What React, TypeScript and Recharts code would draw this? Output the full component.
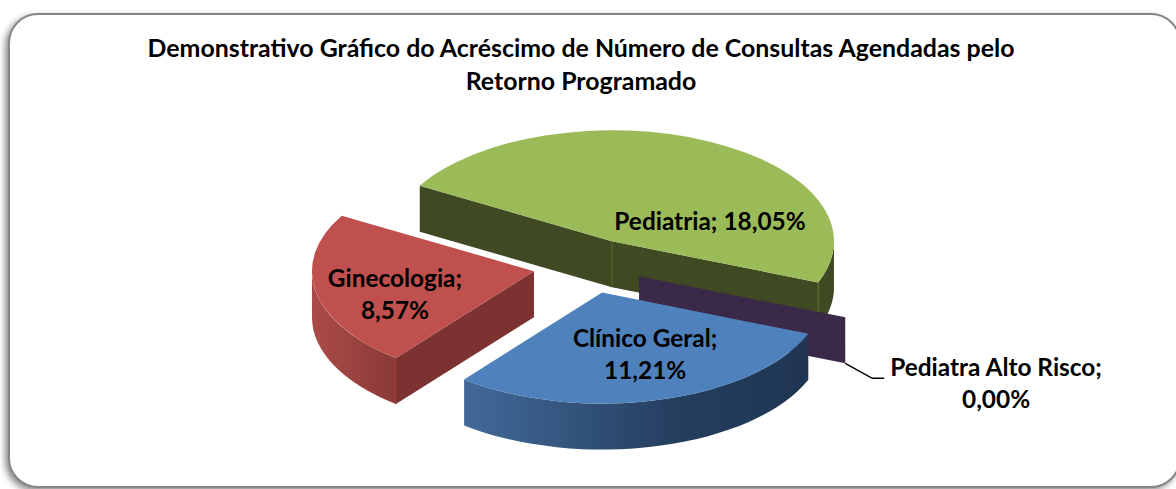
import { PieChart, Pie, Cell } from 'recharts';

const categories = ['Pediatria', 'Pediatra Alto Risco', 'Clínico Geral', 'Ginecologia'];
const percentages = [18.05, 0.0, 11.21, 8.57];
const titleLines = [
  'Demonstrativo Gráfico do Acréscimo de Número de Consultas Agendadas pelo',
  'Retorno Programado',
];

const topColors = ['#9BBB59', '#403152', '#4F81BD', '#C0504D'];
const rimFills = ['#3F4A22', '#3A2A47', 'url(#rimBlue)', 'url(#rimRed)'];
const wallColors = ['#3F4A22', '#3A2A47', '#1F3552', '#7C3230'];
const seamColors = ['#5B6B2E', '#3A2A47', '#1F3552', '#8A3A38'];

const TILT = 0.5;
const DEPTH = 46;
const EXPLODE = 55;
const FONT = 'Lato, "Open Sans", sans-serif';

const data = categories.map((name, i) => ({ name, value: percentages[i] }));

const rad = (a: number) => (a * Math.PI) / 180;

// slice center after pulling it out along its bisector, flattened like the top face
function sliceOrigin(cx: number, cy: number, start: number, end: number) {
  const mid = rad((start + end) / 2);
  return { x: cx + EXPLODE * Math.cos(mid), y: cy - EXPLODE * TILT * Math.sin(mid) };
}

function Slice3D(props: any) {
  const { cx, cy, outerRadius: r, startAngle: start, endAngle: end, index } = props;
  const o = sliceOrigin(cx, cy, start, end);
  const ry = r * TILT;
  const pt = (a: number, h = 0) => ({
    x: o.x + r * Math.cos(rad(a)),
    y: o.y - ry * Math.sin(rad(a)) + h,
  });
  const i = categories.indexOf(props.name);
  const idx = i >= 0 ? i : index;
  const arc = (a: number, b: number, h = 0) => {
    const p = pt(b, h);
    return `A${r} ${ry} 0 ${Math.abs(a - b) > 180 ? 1 : 0} 1 ${p.x} ${p.y}`;
  };
  const wall = (a: number) => {
    const p = pt(a);
    const q = pt(a, DEPTH);
    return `M${o.x} ${o.y}L${p.x} ${p.y}L${q.x} ${q.y}L${o.x} ${o.y + DEPTH}Z`;
  };
  const startP = pt(start);
  const endP = pt(end);
  const startVisible = Math.cos(rad(start)) < 0;
  const endVisible = Math.cos(rad(end)) > 0;
  // outer wall only shows on the lower half of the ellipse
  const hi = Math.min(start, 0);
  const lo = Math.max(end, -180);
  let rim = '';
  if (hi > lo) {
    const a = pt(hi);
    const b = pt(lo, DEPTH);
    rim = `M${a.x} ${a.y}${arc(hi, lo)}L${b.x} ${b.y}A${r} ${ry} 0 0 0 ${pt(hi, DEPTH).x} ${pt(hi, DEPTH).y}Z`;
  }
  const seam = (p: { x: number; y: number }) => (
    <line x1={p.x} y1={p.y} x2={p.x} y2={p.y + DEPTH} stroke={seamColors[idx]} strokeWidth={1} />
  );
  return (
    <g>
      {startVisible && <path d={wall(start)} fill={wallColors[idx]} />}
      {endVisible && <path d={wall(end)} fill={wallColors[idx]} />}
      {rim && <path d={rim} fill={rimFills[idx]} />}
      {startVisible && endVisible && seam(o)}
      {idx === 0 && seam(endP)}
      {idx === 3 && seam(startP)}
      {start !== end && (
        <path
          d={`M${o.x} ${o.y}L${startP.x} ${startP.y}${arc(start, end)}Z`}
          fill={topColors[idx]}
        />
      )}
    </g>
  );
}

const labelShift = [
  { dx: 98, dy: -11 },
  { dx: 151, dy: 100 },
  { dx: 43, dy: 70 },
  { dx: -139, dy: 32 },
];

function SliceLabel(props: any) {
  const { cx, cy, outerRadius: r, startAngle: start, endAngle: end, index, name, value } = props;
  const o = sliceOrigin(cx, cy, start, end);
  const text = `${value.toFixed(2).replace('.', ',')}%`;
  const shift = labelShift[index];
  const common = {
    textAnchor: 'middle' as const,
    fontFamily: FONT,
    fontWeight: 700,
    fontSize: 24.4,
    fill: '#000',
  };
  if (index === 0) {
    return (
      <text x={o.x + shift.dx} y={o.y + shift.dy} {...common}>
        {`${name}; ${text}`}
      </text>
    );
  }
  if (index === 1) {
    const ex = o.x + r * Math.cos(rad(end));
    const ey = o.y - r * TILT * Math.sin(rad(end)) + DEPTH;
    const tx = o.x + 206 + shift.dx;
    return (
      <g>
        <polyline points={`${ex},${ey} ${ex + 27},${ey + 15} ${ex + 39},${ey + 15}`} fill="none" stroke="#000" strokeWidth={1.5} />
        <text x={tx} y={o.y + shift.dy} {...common}>{`${name};`}</text>
        <text x={tx} y={o.y + shift.dy + 32} {...common}>{text}</text>
      </g>
    );
  }
  return (
    <g>
      <text x={o.x + shift.dx} y={o.y + shift.dy - 16} {...common}>{`${name};`}</text>
      <text x={o.x + shift.dx} y={o.y + shift.dy + 16} {...common}>{text}</text>
    </g>
  );
}

export default function App() {
  return (
    <div style={{ position: 'absolute', left: 0, top: 0, width: 1176, height: 489, overflow: 'hidden', background: '#fff' }}>
      <div
        style={{
          position: 'absolute',
          left: 8,
          top: 13,
          width: 1173,
          height: 475,
          boxSizing: 'border-box',
          border: '2px solid #868686',
          borderRadius: 30,
          boxShadow: '-3px 3px 6px rgba(0,0,0,0.45)',
          background: '#fff',
        }}
      />
      <div style={{ position: 'absolute', left: 0, top: 0 }}>
        <PieChart width={1176} height={489} margin={{ top: 0, right: 0, bottom: 0, left: 0 }}>
          <defs>
            <linearGradient id="rimBlue" x1="0" y1="0" x2="1" y2="0">
              <stop offset="0%" stopColor="#426A9A" />
              <stop offset="60%" stopColor="#253F60" />
              <stop offset="100%" stopColor="#1F3552" />
            </linearGradient>
            <linearGradient id="rimRed" x1="0" y1="0" x2="1" y2="0">
              <stop offset="0%" stopColor="#AB4B48" />
              <stop offset="100%" stopColor="#8A3A38" />
            </linearGradient>
          </defs>
          {titleLines.map((line, i) => (
            <text
              key={line}
              x={581}
              y={57 + i * 33}
              textAnchor="middle"
              fontFamily={FONT}
              fontWeight={700}
              fontSize={24.9}
              fill="#000"
            >
              {line}
            </text>
          ))}
          <Pie
            data={data}
            dataKey="value"
            nameKey="name"
            cx={588}
            cy={266}
            innerRadius={0}
            outerRadius={222}
            startAngle={150}
            endAngle={-210}
            paddingAngle={0}
            stroke="none"
            isAnimationActive={false}
            shape={Slice3D}
            label={SliceLabel}
            labelLine={false}
          >
            {data.map((d, i) => (
              <Cell key={d.name} fill={topColors[i]} />
            ))}
          </Pie>
        </PieChart>
      </div>
    </div>
  );
}
